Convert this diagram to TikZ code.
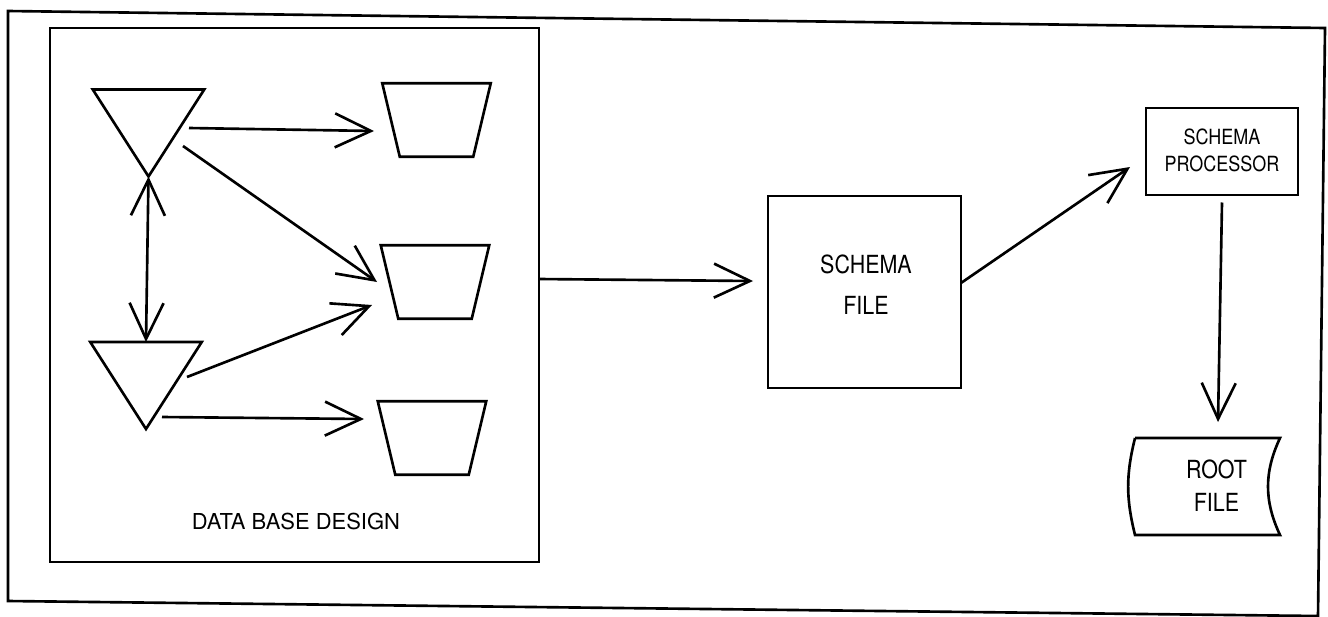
\documentclass[tikz,border=0pt]{standalone}
\usepackage{fontspec}
\setmainfont{TeX Gyre Heros}
\newfontfamily\narrowfont{TeX Gyre Heros}[FakeStretch=0.86]
\usetikzlibrary{arrows.meta}

\tikzset{bigv/.tip={Straight Barb[length=0.72cm, width=0.68cm]}}

\begin{document}
\begin{tikzpicture}[x=0.02cm, y=-0.02cm, line width=1.5pt,
  tri/.style={minimum width=2.23cm, minimum height=1.74cm, inner sep=0pt, outer sep=0pt},
  trap/.style={minimum width=2.17cm, minimum height=1.47cm, inner sep=0pt, outer sep=0pt},
  box/.style={draw, inner sep=0pt, outer sep=0pt},
  lbl/.style={font=\narrowfont, align=center, inner sep=0pt},
  arr/.style={-bigv},
  darr/.style={bigv-bigv}]
\useasboundingbox (0,0) rectangle (1328,616);
\draw (8,11) -- (1325,28) -- (1318,616) -- (8,601) -- cycle;

\node[box, minimum width=9.78cm, minimum height=10.68cm] (design) at (294.5,295) {};
\node[font=\fontsize{12.5}{14}\selectfont] (dblabel) at (296,521) {DATA BASE DESIGN};

\node[tri] (t1) at (148.5,133) {};
\node[tri] (t2) at (146,385.5) {};
\foreach \n in {t1,t2}
  \draw (\n.north west) -- (\n.north east) -- (\n.south) -- cycle;

\node[trap] (trap1) at (436.5,120) {};
\node[trap] (trap2) at (435,282) {};
\node[trap] (trap3) at (432,438) {};
\foreach \n in {trap1,trap2,trap3}
  \draw (\n.north west) -- (\n.north east) -- ([xshift=-0.35cm]\n.south east) -- ([xshift=0.35cm]\n.south west) -- cycle;

\draw[arr] ([shift={(40.5,-5)}]t1.center) -- ([shift={(-62.5,11)}]trap1.center);
\draw[arr] ([shift={(34.5,13)}]t1.center) -- ([shift={(-58,0)}]trap2.center);
\draw[arr] ([shift={(41,-8.5)}]t2.center) -- ([shift={(-63,23)}]trap2.center);
\draw[arr] ([shift={(16,31.5)}]t2.center) -- ([shift={(-68,-19)}]trap3.center);
\draw[darr] (t1.south) -- (t2.north);

\node[box, minimum width=3.86cm, minimum height=3.84cm] (sfile) at (864.5,292) {};
\node[lbl, font=\narrowfont\fontsize{14.2}{23.2}\selectfont] (sflabel) at (866,284.5) {SCHEMA\\FILE};

\node[box, minimum width=3.04cm, minimum height=1.74cm] (proc) at (1222,151.5) {};
\node[lbl, font=\narrowfont\fontsize{11.9}{15.3}\selectfont] (plabel) at (1222,150.5) {SCHEMA\\PROCESSOR};

\node[minimum width=2.9cm, minimum height=1.94cm, inner sep=0pt, outer sep=0pt] (rfile) at (1207.5,486.5) {};
\draw (rfile.north west) -- (rfile.north east) to[bend right=25] (rfile.south east) -- (rfile.south west) to[bend left=14] (rfile.north west);
\node[lbl, font=\narrowfont\fontsize{14.2}{18.7}\selectfont] (rlabel) at (1216.5,485.5) {ROOT\\FILE};

\draw[arr] ([shift={(0,-16)}]design.east) -- ([shift={(-15,-11)}]sfile.west);
\draw[arr] ([shift={(0,-9)}]sfile.east) -- ([shift={(-16,15.5)}]proc.west);
\draw[arr] ([shift={(0,7.5)}]proc.south) -- ([shift={(10.5,-16)}]rfile.north);
\end{tikzpicture}
\end{document}
